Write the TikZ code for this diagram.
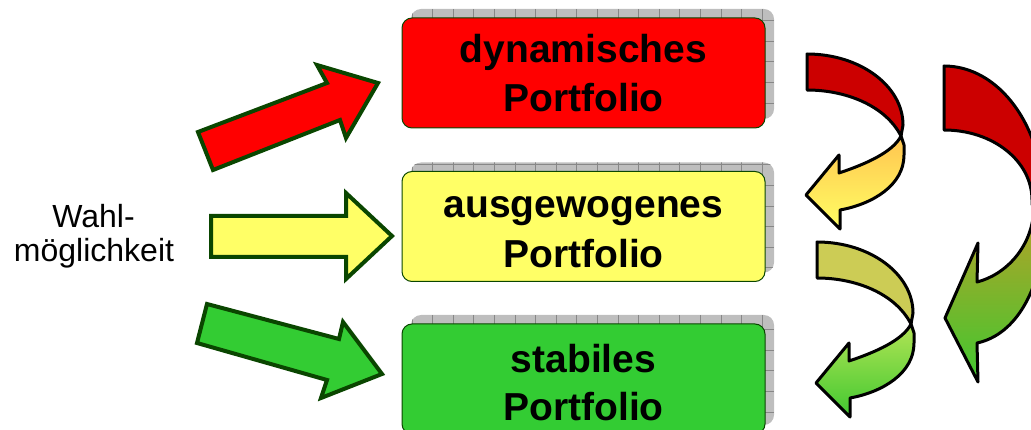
\documentclass[tikz,border=0pt]{standalone}
\usepackage{fontspec}
\setmainfont{Liberation Sans}

\definecolor{boxred}{RGB}{255,0,0}
\definecolor{boxyellow}{RGB}{255,255,102}
\definecolor{boxgreen}{RGB}{51,204,51}
\definecolor{rim}{RGB}{10,70,0}
\definecolor{bandred}{RGB}{204,0,0}
\definecolor{bandolive}{RGB}{204,204,85}
\definecolor{shadowgray}{RGB}{190,190,190}
\definecolor{shadowline}{RGB}{135,135,135}
\definecolor{gradorange}{RGB}{255,196,80}
\definecolor{gradyellow}{RGB}{255,255,100}
\definecolor{gradlime}{RGB}{178,228,85}
\definecolor{gradgreen}{RGB}{64,200,48}
\definecolor{gradbrown}{RGB}{185,160,40}

\begin{document}
\begin{tikzpicture}[x=1pt,y=-1pt,
  boxshape/.style={rounded corners=10pt, minimum width=363pt, minimum height=110pt, inner sep=0pt},
  box/.style={boxshape, draw=rim, line width=1pt},
  shadowbox/.style={boxshape, fill=shadowgray},
  title/.style={font=\fontsize{39}{47}\selectfont\bfseries, anchor=base, inner sep=0pt},
  side/.style={font=\fontsize{32}{34}\selectfont, anchor=base, inner sep=0pt},
  blockarrow/.style={draw=rim, line width=4pt, line join=miter},
  ribbon/.style={draw=black, line width=3pt, line join=round}]

\useasboundingbox (0,0) rectangle (1031,430);
\clip (0,0) rectangle (1031,430);

% the three portfolio boxes with their gridded shadows
\foreach \n/\cy/\col in {dyn/73/boxred, bal/226.5/boxyellow, stab/379/boxgreen} {
  \node[shadowbox] (\n-s) at (592.5,\cy-9) {};
  \begin{scope}
    \clip[rounded corners=10pt] (\n-s.south west) rectangle (\n-s.north east);
    \draw[shadowline, line width=0.7pt, step=20.6pt] (\n-s.south west) grid (\n-s.north east);
  \end{scope}
  \node[box, fill=\col] (\n) at (583.5,\cy) {};
}

\node[title] (dyn-a) at (583.5,63) {dynamisches};
\node[title] (dyn-b) at (583.5,112) {Portfolio};
\node[title] (bal-a) at (583.5,218) {ausgewogenes};
\node[title] (bal-b) at (583.5,267.5) {Portfolio};
\node[title] (stab-a) at (583.5,372.5) {stabiles};
\node[title] (stab-b) at (583.5,420) {Portfolio};

% choice label
\node[side] (wahl) at (93.5,228) {Wahl-};
\node[side] (moegl) at (94,262) {möglichkeit};

% straight block arrows towards the boxes
\draw[blockarrow, fill=boxred] (213,170) -- (198,132) -- (327,83) -- (317,65)
  -- (378,83) -- (346,138) -- (340,120) -- cycle;
\draw[blockarrow, fill=boxyellow] (211,216) -- (346,216) -- (346,193) -- (392,236)
  -- (346,279) -- (346,257) -- (211,257) -- cycle;
\draw[blockarrow, fill=boxgreen] (207,304) -- (339,339) -- (343,322) -- (382,374)
  -- (321,398) -- (327,380) -- (197,343) -- cycle;

% small curved arrow: dynamic -> balanced
\draw[ribbon, fill=bandred] (807,54) .. controls (860,54) and (903,86) .. (903,125)
  -- (901,136) .. controls (885,105) and (845,90) .. (807,90) -- cycle;
\draw[ribbon, top color=gradorange, bottom color=gradyellow]
  (901,136) -- (904,145) -- (904,155) .. controls (904,185) and (873,204) .. (840,210)
  -- (840,229) -- (806,195) -- (839,155) -- (839,173)
  .. controls (866,164) and (893,152) .. (901,136) -- cycle;

% small curved arrow: balanced -> stable
\begin{scope}[shift={(10,188)}]
\draw[ribbon, fill=bandolive] (807,54) .. controls (860,54) and (903,86) .. (903,125)
  -- (901,136) .. controls (885,105) and (845,90) .. (807,90) -- cycle;
\draw[ribbon, top color=gradlime, bottom color=gradgreen]
  (901,136) -- (904,145) -- (904,155) .. controls (904,185) and (873,204) .. (840,210)
  -- (840,229) -- (806,195) -- (839,155) -- (839,173)
  .. controls (866,164) and (893,152) .. (901,136) -- cycle;
\end{scope}

% large curved arrow: dynamic -> stable
\draw[ribbon, fill=bandred] (944,66) .. controls (999,66) and (1044,126) .. (1044,205)
  -- (1032,205) -- (1032,200) .. controls (1032,161) and (993,130) .. (944,130) -- cycle;
\draw[ribbon, top color=gradbrown, bottom color=gradgreen]
  (1034,205) -- (1046,205) .. controls (1046,290) and (1015,335) .. (977,343)
  -- (978,382) -- (945,318) -- (978,243) -- (977,282)
  .. controls (1005,275) and (1034,247) .. (1034,205) -- cycle;

\end{tikzpicture}
\end{document}
